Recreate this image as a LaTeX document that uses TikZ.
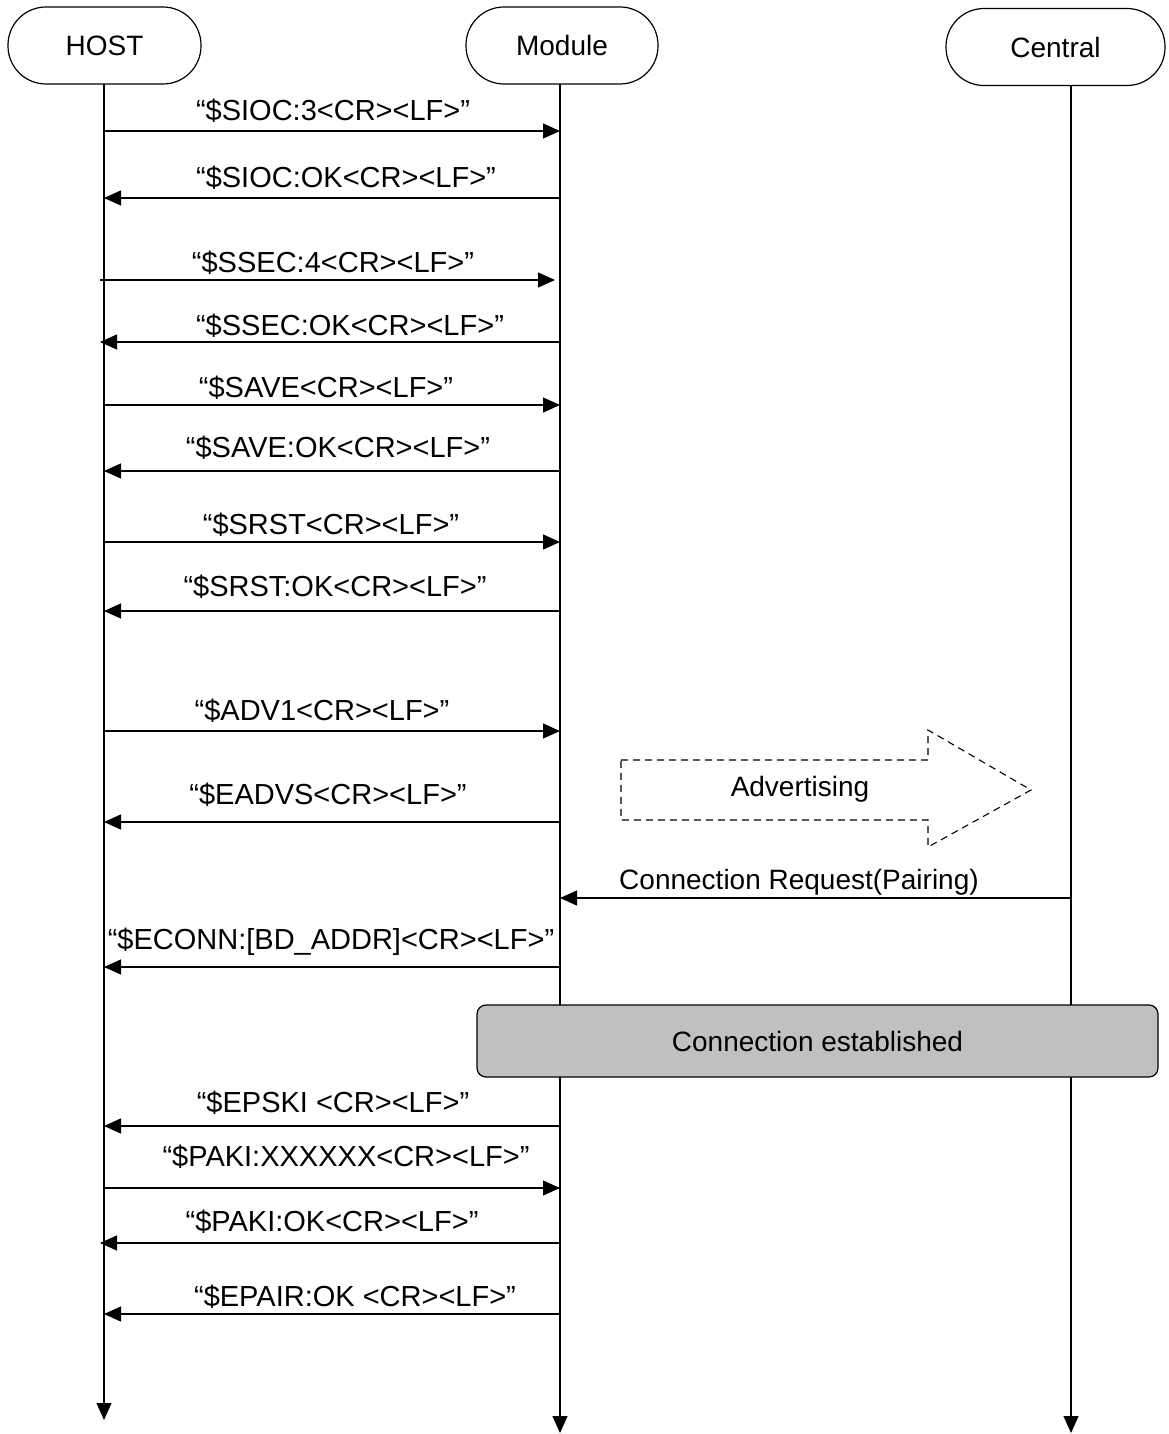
\documentclass[tikz,border=0pt]{standalone}
\usepackage{fontspec}
\setmainfont{Liberation Sans}
\usetikzlibrary{arrows.meta}
\begin{document}
\begin{tikzpicture}[x=1pt,y=-1pt,
  every node/.style={font=\fontsize{28}{32}\selectfont, inner sep=0pt},
  head/.style={draw, line width=1.2pt, rounded corners=38pt, minimum height=77pt},
  life/.style={line width=1.1pt},
  msg/.style={line width=1.1pt, -{Triangle[length=17pt,width=15pt]}},
  lbl/.style={anchor=base, font=\fontsize{29}{33}\selectfont}
]
\useasboundingbox (0,0) rectangle (1168,1434);
% headers
\node[head, minimum width=193pt] (host) at (104.5,45.5) {HOST};
\node[head, minimum width=192pt] (module) at (562,45.5) {Module};
\node[head, minimum width=219pt] (central) at (1055.5,47) {Central};
% lifeline coordinates
\coordinate (hT) at (104,84);
\coordinate (mT) at (560,84);
\coordinate (cT) at (1071,86);
\coordinate (hB) at (104,1420);
\coordinate (mB) at (560,1433);
\coordinate (cB) at (1071,1433);
% connection established box
\node[draw, line width=1.2pt, fill={rgb,255:red,192;green,192;blue,192}, rounded corners=9pt,
  minimum width=681pt, minimum height=72pt] (conn) at (817.5,1041) {Connection established};
\coordinate (mC1) at (560,1005);
\coordinate (mC2) at (560,1077);
\coordinate (cC1) at (1071,1005);
\coordinate (cC2) at (1071,1077);
\draw[msg] (hT) -- (hB);
\draw[life] (mT) -- (mC1);
\draw[msg] (mC2) -- (mB);
\draw[life] (cT) -- (cC1);
\draw[msg] (cC2) -- (cB);
% messages
\foreach \y/\xa/\xb/\lx/\ly/\t/\nm in {
  131/104/560/333/121/{“\$SIOC:3<CR><LF>”}/a1,
  198/560/104/346/188/{“\$SIOC:OK<CR><LF>”}/a2,
  280/100/555/333/272/{“\$SSEC:4<CR><LF>”}/a3,
  342/560/100/350/335/{“\$SSEC:OK<CR><LF>”}/a4,
  405/104/560/326/397/{“\$SAVE<CR><LF>”}/a5,
  471/560/104/338/457/{“\$SAVE:OK<CR><LF>”}/a6,
  542/104/560/331/534/{“\$SRST<CR><LF>”}/a7,
  611/560/104/335/596/{“\$SRST:OK<CR><LF>”}/a8,
  731/104/560/322/720/{“\$ADV1<CR><LF>”}/a9,
  822/560/104/328/804/{“\$EADVS<CR><LF>”}/a10,
  967/560/104/331/949/{“\$ECONN:[BD\_ADDR]<CR><LF>”}/a13,
  1126/560/104/333/1112/{“\$EPSKI <CR><LF>”}/a15,
  1188/104/560/346/1166/{“\$PAKI:XXXXXX<CR><LF>”}/a16,
  1243/560/100/332/1231/{“\$PAKI:OK<CR><LF>”}/a17,
  1314/560/104/355/1306/{“\$EPAIR:OK <CR><LF>”}/a18}{
  \coordinate (\nm s) at (\xa,\y);
  \coordinate (\nm e) at (\xb,\y);
  \draw[msg] (\nm s) -- (\nm e);
  \node[lbl] (\nm l) at (\lx,\ly) {\t};
}
% connection request
\coordinate (crS) at (1071,898);
\coordinate (crE) at (560,898);
\draw[msg] (crS) -- (crE);
\node[lbl, font=\fontsize{28}{32}\selectfont] (crl) at (799,889) {Connection Request(Pairing)};
% advertising dashed arrow
\draw[line width=1.1pt, dash pattern=on 7pt off 5pt]
  (621,760) -- (928,760) -- (928,730) -- (1031,790) -- (928,847) -- (928,820) -- (621,820) -- cycle;
\node (adv) at (800,789) {Advertising};
\end{tikzpicture}
\end{document}
